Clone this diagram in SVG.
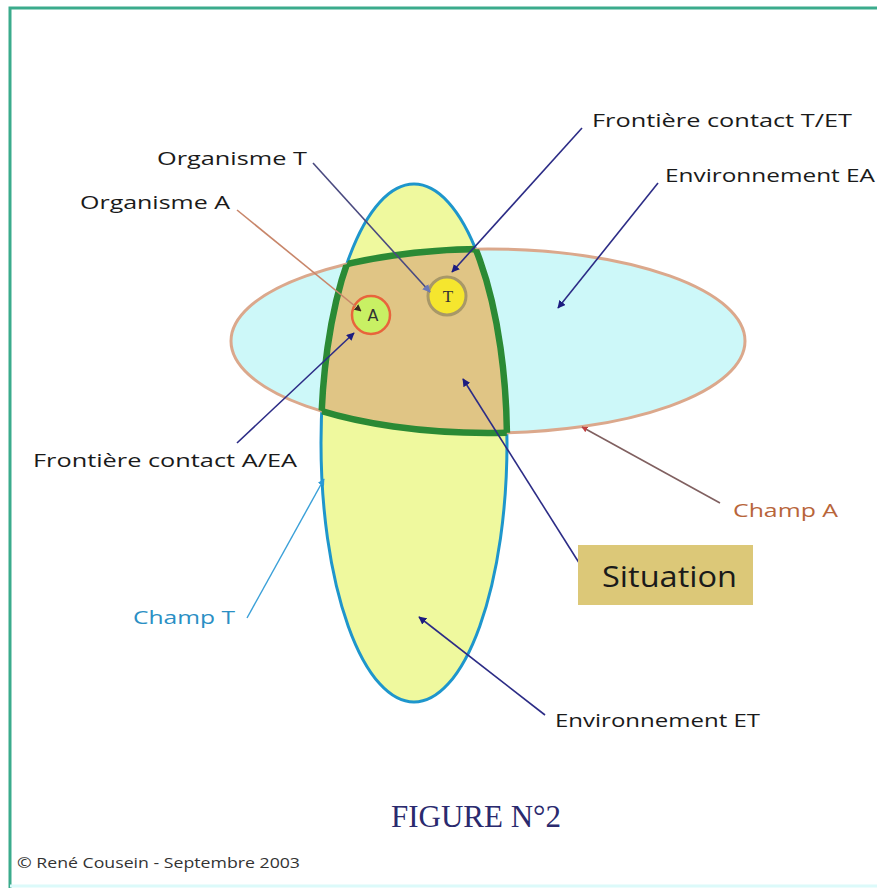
<svg xmlns="http://www.w3.org/2000/svg" width="877" height="888" viewBox="0 0 877 888">
  <style>
    .lbl { font-family: "Open Sans", "DejaVu Sans", sans-serif; font-size: 19px; fill: #1a1a1a; }
    .navy { stroke: #2c2c86; stroke-width: 1.6; fill: none; }
    .frame { stroke: #3bab8c; stroke-width: 3; fill: none; }
  </style>
  <defs>
    <marker id="arrNavy" viewBox="0 0 10 10" refX="9" refY="5" markerWidth="8" markerHeight="8" orient="auto" markerUnits="userSpaceOnUse">
      <path d="M0,0 L10,5 L0,10 Z" fill="#1c1c80"/>
    </marker>
    <marker id="arrGrey" viewBox="0 0 10 10" refX="9" refY="5" markerWidth="8" markerHeight="8" orient="auto" markerUnits="userSpaceOnUse">
      <path d="M0,0 L10,5 L0,10 Z" fill="#6a78b8"/>
    </marker>
    <marker id="arrBlue" viewBox="0 0 10 10" refX="9" refY="5" markerWidth="7" markerHeight="7" orient="auto" markerUnits="userSpaceOnUse">
      <path d="M0,0 L10,5 L0,10 Z" fill="#2a9ad6"/>
    </marker>
    <marker id="arrRed" viewBox="0 0 10 10" refX="9" refY="5" markerWidth="6" markerHeight="6" orient="auto" markerUnits="userSpaceOnUse">
      <path d="M0,0 L10,5 L0,10 Z" fill="#c04040"/>
    </marker>
    <marker id="arrDark" viewBox="0 0 10 10" refX="9" refY="5" markerWidth="7" markerHeight="7" orient="auto" markerUnits="userSpaceOnUse">
      <path d="M0,0 L10,5 L0,10 Z" fill="#3a2a20"/>
    </marker>
    <clipPath id="clipT">
      <ellipse cx="414" cy="443" rx="93" ry="259"/>
    </clipPath>
    <clipPath id="clipA">
      <ellipse cx="488" cy="341" rx="257" ry="92"/>
    </clipPath>
  </defs>

  <!-- page frame -->
  <rect x="0" y="0" width="877" height="888" fill="#ffffff"/>
  <path class="frame" d="M10,888 V8 H877"/>
  <line x1="10" y1="886" x2="877" y2="886" stroke="#dcfafa" stroke-width="3"/>

  <!-- Champ T : vertical field -->
  <g id="champ-t">
    <ellipse cx="414" cy="443" rx="93" ry="259" fill="#eff99e" stroke="#1e96cc" stroke-width="3"/>
  </g>

  <!-- Champ A : horizontal field -->
  <g id="champ-a">
    <ellipse cx="488" cy="341" rx="257" ry="92" fill="#cdf8f9" stroke="#dba88c" stroke-width="3"/>
  </g>

  <!-- Situation : overlap of both fields, bordered in green -->
  <g id="overlap">
    <ellipse cx="488" cy="341" rx="257" ry="92" fill="#e0c585" clip-path="url(#clipT)"/>
    <ellipse cx="488" cy="341" rx="257" ry="92" fill="none" stroke="#2b8a35" stroke-width="6.5" clip-path="url(#clipT)"/>
    <ellipse cx="414" cy="443" rx="93" ry="259" fill="none" stroke="#2b8a35" stroke-width="6.5" clip-path="url(#clipA)"/>
  </g>

  <!-- organisms -->
  <g id="organisme-a">
    <circle cx="371" cy="315" r="19" fill="#c8f064" stroke="#e8643c" stroke-width="2.5"/>
    <text x="373" y="321" text-anchor="middle" font-family="DejaVu Sans, sans-serif" font-size="16" fill="#333">A</text>
  </g>
  <g id="organisme-t">
    <circle cx="447" cy="296" r="19" fill="#f5e62e" stroke="#a89868" stroke-width="3"/>
    <text x="448" y="302" text-anchor="middle" font-family="Liberation Serif, serif" font-size="17" fill="#333">T</text>
  </g>

  <!-- connectors -->
  <g id="connectors">
    <line x1="237" y1="210" x2="361" y2="311" stroke="#c8866a" stroke-width="1.6" marker-end="url(#arrDark)"/>
    <line x1="313" y1="163" x2="430" y2="292" stroke="#4a4a80" stroke-width="1.6" marker-end="url(#arrGrey)"/>
    <line class="navy" x1="582" y1="128" x2="452" y2="272" marker-end="url(#arrNavy)"/>
    <line class="navy" x1="658" y1="183" x2="558" y2="308" marker-end="url(#arrNavy)"/>
    <line class="navy" x1="237" y1="443" x2="354" y2="333" marker-end="url(#arrNavy)"/>
    <line x1="247" y1="618" x2="324" y2="479" stroke="#3aa0d8" stroke-width="1.4" marker-end="url(#arrBlue)"/>
    <line x1="720" y1="503" x2="582" y2="427" stroke="#806060" stroke-width="1.6" marker-end="url(#arrRed)"/>
    <line class="navy" x1="588" y1="577" x2="463" y2="379" marker-end="url(#arrNavy)"/>
    <line class="navy" x1="545" y1="715" x2="419" y2="617" marker-end="url(#arrNavy)"/>
  </g>

  <!-- labels -->
  <g id="label-organisme-t"><text class="lbl" x="157" y="165" textLength="150" lengthAdjust="spacingAndGlyphs">Organisme T</text></g>
  <g id="label-organisme-a"><text class="lbl" x="80" y="209" textLength="150" lengthAdjust="spacingAndGlyphs">Organisme A</text></g>
  <g id="label-frontiere-t"><text class="lbl" x="592" y="127" textLength="260" lengthAdjust="spacingAndGlyphs">Frontière contact T/ET</text></g>
  <g id="label-env-ea"><text class="lbl" x="665" y="182" textLength="210" lengthAdjust="spacingAndGlyphs">Environnement EA</text></g>
  <g id="label-frontiere-a"><text class="lbl" x="33" y="467" textLength="264" lengthAdjust="spacingAndGlyphs">Frontière contact A/EA</text></g>
  <g id="label-champ-t"><text class="lbl" x="133" y="624" textLength="102" lengthAdjust="spacingAndGlyphs" style="fill:#2a8fc4">Champ T</text></g>
  <g id="label-champ-a"><text class="lbl" x="733" y="517" textLength="105" lengthAdjust="spacingAndGlyphs" style="fill:#b8653a">Champ A</text></g>
  <g id="label-env-et"><text class="lbl" x="555" y="727" textLength="205" lengthAdjust="spacingAndGlyphs">Environnement ET</text></g>

  <g id="situation">
    <rect x="578" y="545" width="175" height="60" fill="#dcc878"/>
    <text x="602" y="587" font-family="Open Sans, DejaVu Sans, sans-serif" font-size="30" fill="#1a1a1a" textLength="135" lengthAdjust="spacingAndGlyphs">Situation</text>
  </g>

  <!-- title and credit -->
  <text x="476" y="827" text-anchor="middle" font-family="Liberation Serif, serif" font-size="31" fill="#2a2a6e">FIGURE N°2</text>
  <text x="17" y="868" font-family="Open Sans, DejaVu Sans, sans-serif" font-size="15" fill="#333" textLength="283" lengthAdjust="spacingAndGlyphs">© René Cousein - Septembre 2003</text>
</svg>
